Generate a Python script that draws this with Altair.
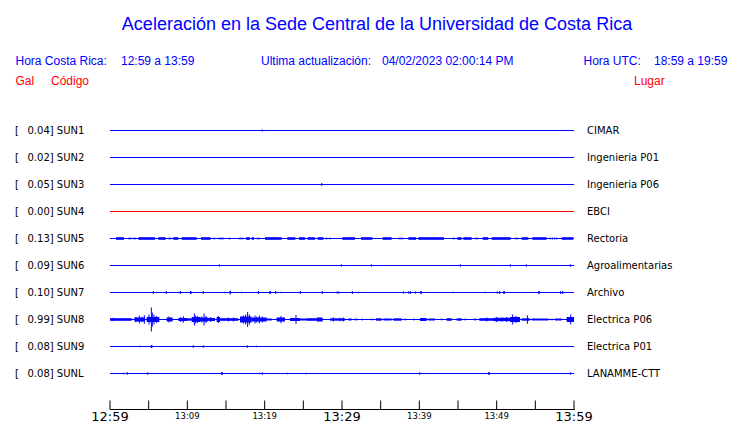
import altair as alt
import pandas as pd

# ---------------- data ----------------
codes = ["SUN1", "SUN2", "SUN3", "SUN4", "SUN5", "SUN6", "SUN7", "SUN8", "SUN9", "SUNL"]
gal = [0.04, 0.02, 0.05, 0.00, 0.13, 0.09, 0.10, 0.99, 0.08, 0.08]
places = ["CIMAR", "Ingenieria P01", "Ingenieria P06", "EBCI", "Rectoria",
          "Agroalimentarias", "Archivo", "Electrica P06", "Electrica P01", "LANAMME-CTT"]

tick_minutes = list(range(0, 61, 5))
label_minutes = [0, 10, 20, 30, 40, 50, 60]
tick_labels = ["12:59", "13:09", "13:19", "13:29", "13:39", "13:49", "13:59"]

# spikes: (minutes after 12:59, half amplitude)   bands: (start, end, half amplitude)
sun1_spikes = [(19.69, 1.0)]
sun3_spikes = [(27.38, 1.5)]
sun5_bands = [(0.00, 0.65, 0.5), (0.78, 1.81, 1.3), (2.37, 2.80, 0.8), (3.02, 3.36, 0.8),
              (3.66, 5.82, 1.3), (6.25, 7.20, 1.3), (7.54, 7.97, 0.8), (8.19, 8.84, 1.3),
              (9.27, 11.21, 1.3), (11.77, 13.02, 1.3), (14.01, 14.74, 0.8), (15.30, 15.60, 0.8),
              (16.60, 17.24, 0.8), (17.59, 18.10, 1.3), (18.32, 18.62, 1.3), (18.97, 19.40, 0.8),
              (20.04, 22.20, 1.3), (22.93, 23.97, 1.3), (24.44, 25.22, 1.3), (25.56, 26.51, 1.3),
              (26.85, 27.59, 1.3), (30.04, 31.68, 1.3), (32.46, 33.92, 1.3), (35.26, 36.42, 1.3),
              (37.28, 37.93, 0.8), (38.58, 39.57, 1.3), (39.87, 41.38, 1.3), (41.38, 43.19, 1.3),
              (44.31, 44.61, 0.8), (44.91, 45.47, 1.3), (45.69, 46.77, 1.3), (47.20, 47.63, 0.8),
              (48.19, 48.92, 1.3), (49.35, 51.81, 1.3), (52.37, 52.80, 0.8), (53.23, 54.10, 1.3),
              (54.61, 56.47, 1.3), (58.41, 59.91, 1.3)]
sun5_spikes = [(13.49, 1.0), (28.02, 1.0), (28.45, 1.0), (56.90, 1.0), (57.20, 1.0),
               (57.50, 1.0), (57.76, 1.0)]
sun6_spikes = [(14.13, 1.3), (29.91, 1.3), (33.79, 1.3), (45.30, 1.3), (51.76, 1.3),
               (53.83, 1.3), (59.52, 1.3)]
sun7_spikes = [(5.60, 1.5), (7.28, 1.5), (9.09, 1.5), (12.06, 1.5), (14.78, 0.8), (17.03, 0.8),
               (19.18, 1.5), (21.43, 1.5), (22.15, 0.8), (24.61, 1.5), (27.45, 1.5), (29.39, 1.2),
               (29.61, 1.2), (31.33, 1.5), (32.11, 0.8), (37.93, 1.2), (38.63, 1.2), (38.83, 1.5),
               (39.48, 1.2), (44.39, 0.8), (48.53, 0.8), (50.08, 1.2), (50.39, 1.5), (58.28, 1.5),
               (58.54, 1.5)]
sun7_bands = [(10.34, 10.54, 1.5), (15.46, 15.66, 1.8), (20.59, 20.79, 1.5), (40.12, 40.32, 1.5),
              (50.85, 51.05, 1.5), (55.37, 55.57, 1.5)]
sun8_bands = [(0.00, 2.80, 1.3), (3.15, 4.53, 2.0), (4.74, 6.38, 2.5), (7.33, 8.10, 2.0),
              (8.84, 10.00, 1.5), (10.00, 10.56, 1.2), (10.56, 11.64, 2.5), (11.64, 12.72, 2.0),
              (12.72, 13.58, 1.5), (13.79, 14.22, 2.5), (14.22, 16.60, 1.3), (16.81, 18.32, 3.0),
              (18.32, 20.26, 2.0), (20.26, 20.91, 1.0), (21.55, 22.63, 2.0), (23.28, 24.57, 1.5),
              (24.57, 25.43, 1.0), (25.43, 26.72, 1.3), (26.72, 27.50, 2.0), (28.45, 30.39, 1.2),
              (30.82, 31.25, 1.0), (33.62, 34.05, 0.7), (34.40, 35.13, 1.2), (35.35, 36.42, 1.0),
              (36.64, 37.72, 1.2), (40.09, 40.95, 1.5), (41.16, 42.03, 1.0), (43.53, 44.18, 1.3),
              (44.83, 45.47, 1.2), (46.98, 47.41, 0.8), (47.76, 49.57, 1.3), (49.57, 51.72, 1.7),
              (51.72, 53.02, 2.5), (53.23, 54.31, 1.2), (54.53, 56.68, 1.0), (56.90, 57.33, 0.7),
              (57.54, 58.41, 1.0), (59.05, 60.00, 2.5)]
sun8_spikes = [(0.43, 1.7), (3.36, 2.7), (3.79, 4.0), (4.14, 2.7), (4.44, 4.3), (5.04, 5.0),
               (5.35, 12.0), (5.47, 7.0), (5.69, 5.0), (6.03, 3.5), (7.63, 3.0), (9.14, 2.5),
               (9.48, 3.3), (10.91, 6.0), (11.08, 4.0), (11.34, 3.5), (11.85, 3.0), (12.16, 6.0),
               (12.41, 3.5), (13.02, 2.5), (14.01, 3.5), (15.30, 2.0), (15.95, 2.0), (17.24, 4.0),
               (17.54, 5.0), (17.80, 7.5), (18.02, 5.0), (18.75, 4.0), (18.97, 3.0), (19.31, 4.0),
               (19.70, 3.0), (22.11, 3.5), (24.05, 4.5), (28.88, 2.0), (29.74, 1.7), (30.17, 2.0),
               (31.68, 1.0), (31.90, 1.0), (32.63, 1.0), (38.15, 1.0), (39.31, 1.0), (42.89, 1.0),
               (45.91, 1.0), (48.71, 2.0), (50.00, 2.5), (50.73, 2.0), (51.29, 2.5), (52.07, 5.0),
               (52.50, 3.5), (52.80, 2.0), (53.97, 4.3), (59.57, 5.0)]
sun9_spikes = [(3.84, 0.8), (10.77, 1.3), (12.06, 1.3), (17.75, 1.3), (18.92, 0.8)]
sun9_bands = [(5.29, 5.49, 1.5)]
sunl_spikes = [(1.77, 0.8), (2.24, 1.3), (4.88, 1.3), (19.36, 0.8), (19.69, 1.3), (22.93, 0.8),
               (25.34, 0.8), (40.05, 1.3), (59.52, 1.3)]
sunl_bands = [(14.38, 14.58, 1.5), (48.91, 49.11, 1.5)]

spikes_by_code = {"SUN1": sun1_spikes, "SUN3": sun3_spikes, "SUN5": sun5_spikes,
                  "SUN6": sun6_spikes, "SUN7": sun7_spikes, "SUN8": sun8_spikes,
                  "SUN9": sun9_spikes, "SUNL": sunl_spikes}
bands_by_code = {"SUN5": sun5_bands, "SUN7": sun7_bands, "SUN8": sun8_bands,
                 "SUN9": sun9_bands, "SUNL": sunl_bands}

# ---------------- layout ----------------
ROW = 27
W, H = 464, 293
BLUE, RED = "#0000ff", "#ff0000"
base = {c: -ROW * i for i, c in enumerate(codes)}

stations = pd.DataFrame({
    "code": codes,
    "gal": [f"{g:.2f}] " + c for g, c in zip(gal, codes)],
    "place": places,
    "base": [base[c] for c in codes],
    "color": [RED if g == 0 else BLUE for g in gal],
    "t0": 0, "t1": 60,
})

sp_rows = []
for c, lst in spikes_by_code.items():
    for t, a in lst:
        sp_rows.append({"t": t, "ylo": base[c] - a, "yhi": base[c] + a})
spikes = pd.DataFrame(sp_rows)

bd_rows = []
for c, lst in bands_by_code.items():
    for t0, t1, a in lst:
        bd_rows.append({"t0": t0, "t1": t1, "ylo": base[c] - a, "yhi": base[c] + a})
bands = pd.DataFrame(bd_rows)

xs = alt.Scale(domain=[0, 60], nice=False, zero=False)
ys = alt.Scale(domain=[14.5 - H, 14.5], nice=False, zero=False)

baselines = alt.Chart(stations).mark_rule(strokeWidth=1).encode(
    x=alt.X("t0:Q", scale=xs, axis=None), x2="t1:Q",
    y=alt.Y("base:Q", scale=ys, axis=None),
    color=alt.Color("color:N", scale=None))

band_layer = alt.Chart(bands).mark_rect(color=BLUE, strokeWidth=0).encode(
    x=alt.X("t0:Q", scale=xs, axis=None), x2="t1:Q",
    y=alt.Y("ylo:Q", scale=ys, axis=None), y2="yhi:Q")

spike_layer = alt.Chart(spikes).mark_rule(color=BLUE, strokeWidth=1).encode(
    x=alt.X("t:Q", scale=xs, axis=None),
    y=alt.Y("ylo:Q", scale=ys, axis=None), y2="yhi:Q")

lab_font = "DejaVu Sans"
bracket = alt.Chart(stations).mark_text(align="left", baseline="middle", font=lab_font,
                                        fontSize=10, color="black", dy=0.5).encode(
    x=alt.value(-95), y=alt.Y("base:Q", scale=ys, axis=None), text=alt.value("["))
gal_text = alt.Chart(stations).mark_text(align="left", baseline="middle", font=lab_font,
                                         fontSize=10, color="black", dy=0.5).encode(
    x=alt.value(-82.5), y=alt.Y("base:Q", scale=ys, axis=None), text="gal:N")
place_text = alt.Chart(stations).mark_text(align="left", baseline="middle", font=lab_font,
                                           fontSize=10, color="black", dy=0.5).encode(
    x=alt.value(477), y=alt.Y("base:Q", scale=ys, axis=None), text="place:N")

# time axis drawn by hand (ticks point upward)
ticks = pd.DataFrame({"t": tick_minutes})
tick_layer = alt.Chart(ticks).mark_rule(color="black", strokeWidth=1).encode(
    x=alt.X("t:Q", scale=xs, axis=None), y=alt.value(H - 8.5), y2=alt.value(H + 0.5))
axis_line = alt.Chart(ticks).mark_rule(color="black", strokeWidth=1).encode(
    x=alt.value(0), x2=alt.value(W + 1), y=alt.value(H + 0.5))
labs = pd.DataFrame({"t": label_minutes, "lab": tick_labels,
                     "major": [m % 30 == 0 for m in label_minutes]})
big_labels = alt.Chart(labs).transform_filter("datum.major").mark_text(
    align="center", baseline="alphabetic", font=lab_font, fontSize=13, color="black").encode(
    x=alt.X("t:Q", scale=xs, axis=None), y=alt.value(H + 12), text="lab:N")
small_labels = alt.Chart(labs).transform_filter("!datum.major").mark_text(
    align="center", baseline="alphabetic", font=lab_font, fontSize=8.5, color="black").encode(
    x=alt.X("t:Q", scale=xs, axis=None), y=alt.value(H + 10), text="lab:N")


def label(txt, x, y, color, size, align="left"):
    return alt.Chart(pd.DataFrame({"s": [txt]})).mark_text(
        align=align, baseline="alphabetic", font="Liberation Sans", fontSize=size,
        color=color).encode(x=alt.value(x), y=alt.value(y), text="s:N")


header = [
    label("Aceleración en la Sede Central de la Universidad de Costa Rica", 267, -86.5, BLUE, 18, "center"),
    label("Hora Costa Rica:", -94.5, -51, BLUE, 12),
    label("12:59 a 13:59", 11, -51, BLUE, 12),
    label("Ultima actualización:", 151, -51, BLUE, 12),
    label("04/02/2023 02:00:14 PM", 272, -51, BLUE, 12),
    label("Hora UTC:", 473.5, -51, BLUE, 12),
    label("18:59 a 19:59", 544, -51, BLUE, 12),
    label("Gal", -94.5, -31, RED, 12),
    label("Código", -59, -31, RED, 12),
    label("Lugar", 524, -31, RED, 12),
]

chart = alt.layer(
    baselines, band_layer, spike_layer, bracket, gal_text, place_text,
    tick_layer, axis_line, big_labels, small_labels, *header
).properties(
    width=W, height=H,
    autosize=alt.AutoSizeParams(type="none"),
    padding={"left": 102, "top": 108, "right": 158, "bottom": 14},
    background="white",
).configure_view(strokeWidth=0)

chart.save("out.html", embed_options={"renderer": "svg", "actions": False})
